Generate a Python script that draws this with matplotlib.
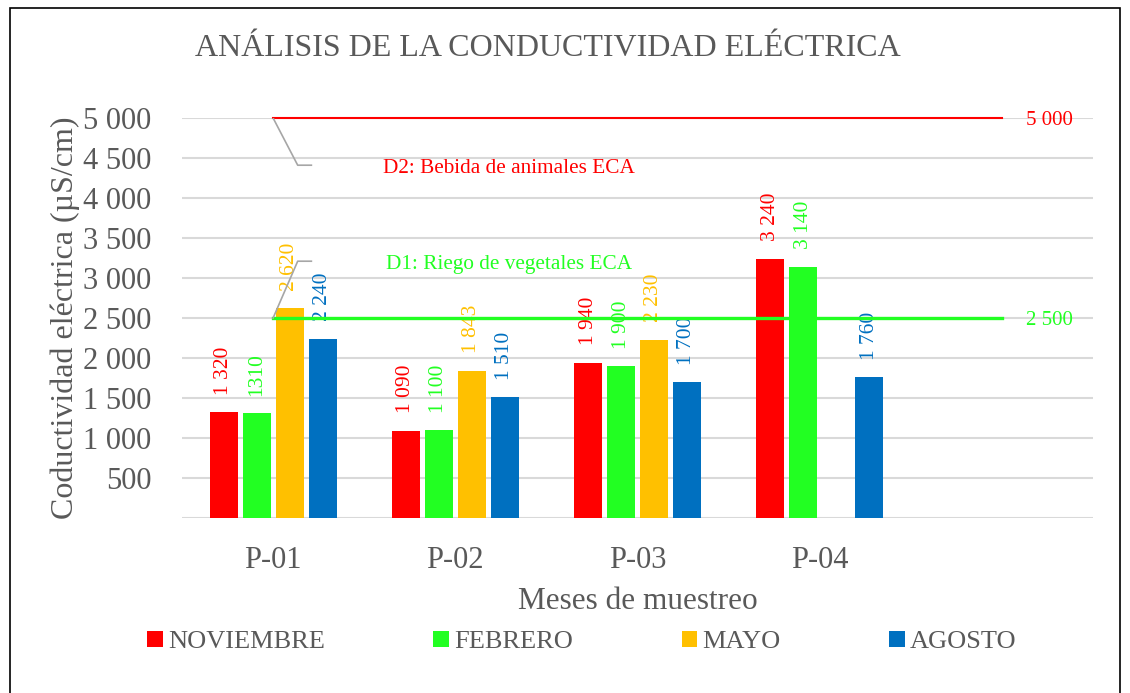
import matplotlib.pyplot as plt
from matplotlib.patches import Rectangle
from matplotlib.ticker import FuncFormatter

# datos
puntos = ["P-01", "P-02", "P-03", "P-04", ""]
meses = ["NOVIEMBRE", "FEBRERO", "MAYO", "AGOSTO"]
noviembre = [1320, 1090, 1940, 3240]
febrero = [1310, 1100, 1900, 3140]
mayo = [2620, 1843, 2230, None]
agosto = [2240, 1510, 1700, 1760]
etiquetas = [["1 320", "1 090", "1 940", "3 240"],
             ["1310", "1 100", "1 900", "3 140"],
             ["2 620", "1 843", "2 230", ""],
             ["2 240", "1 510", "1 700", "1 760"]]
eca_d1 = [2500] * 5
eca_d2 = [5000] * 5

colores = ["#FF0000", "#22FF22", "#FFC000", "#0070C0"]
gris = "#595959"
plt.rcParams['font.family'] = ['Liberation Serif', 'DejaVu Serif']

fig = plt.figure(figsize=(11.3, 6.93), dpi=100)
ax = fig.add_axes([182 / 1130, 1 - 518 / 693, 911 / 1130, 400 / 693])

paso = 0.181
ancho = 0.154
series = [noviembre, febrero, mayo, agosto]
for k, serie in enumerate(series):
    xs = [i + (k - 1.5) * paso for i in range(len(serie)) if serie[i] is not None]
    ys = [v for v in serie if v is not None]
    labs = [etiquetas[k][i] for i in range(len(serie)) if serie[i] is not None]
    ax.bar(xs, ys, width=ancho, color=colores[k], label=meses[k], zorder=3)
    for x, y, t in zip(xs, ys, labs):
        ax.annotate(t, (x, y), xytext=(0, 12.5), textcoords="offset points",
                    rotation=90, ha="center", va="bottom", fontsize=15.5,
                    color=colores[k])

ax.plot(range(5), eca_d2, color="#FF0000", lw=1.5, zorder=4, clip_on=False)
ax.plot(range(5), eca_d1, color="#22FF22", lw=2.4, zorder=4)
ax.annotate("5 000", (4, 5000), xytext=(17, 0), textcoords="offset points",
            va="center_baseline", ha="left", fontsize=15, color="#FF0000")
ax.annotate("2 500", (4, 2500), xytext=(17, 0), textcoords="offset points",
            va="center_baseline", ha="left", fontsize=15, color="#22FF22")

# llamadas
ax.plot([0, 0.135, 0.21], [5000, 4410, 4410], color="#A6A6A6", lw=1.2, zorder=5)
ax.text(1.295, 4370, "D2: Bebida de animales ECA", ha="center", va="center",
        fontsize=15.3, color="#FF0000")
ax.plot([0, 0.135, 0.21], [2500, 3210, 3210], color="#A6A6A6", lw=1.2, zorder=5)
ax.text(1.295, 3170, "D1: Riego de vegetales ECA", ha="center", va="center",
        fontsize=15.3, color="#22FF22")

ax.set_xlim(-0.5, 4.5)
ax.set_ylim(0, 5000)
ax.set_yticks(range(0, 5001, 500))
ax.yaxis.set_major_formatter(FuncFormatter(
    lambda v, p: "" if v == 0 else f"{int(v):,}".replace(",", " ")))
ax.set_xticks(range(5))
ax.set_xticklabels(puntos)
ax.tick_params(length=0, labelsize=22, labelcolor=gris)
ax.tick_params(axis="x", pad=20)
ax.tick_params(axis="y", pad=22)
ax.grid(axis="y", color="#D9D9D9", lw=1.5, zorder=0)
for s in ax.spines.values():
    s.set_visible(False)

ax.set_xlabel("Meses de muestreo", fontsize=22.5, color=gris, labelpad=9)
ax.set_ylabel("Coductividad eléctrica (µS/cm)", fontsize=23, color=gris, labelpad=2)
fig.text(548 / 1130, 1 - 49 / 693, "ANÁLISIS DE LA CONDUCTIVIDAD ELÉCTRICA",
         ha="center", va="center", fontsize=23, color=gris)

leg = ax.legend(loc="center", bbox_to_anchor=(582 / 1130, 1 - 642 / 693),
                bbox_transform=fig.transFigure, ncol=4, frameon=False,
                fontsize=19, handlelength=0.6, handleheight=0.6,
                handletextpad=0.2, columnspacing=4.1)
for t in leg.get_texts():
    t.set_color(gris)

fig.patches.append(Rectangle((10 / 1130, -0.05), 1110 / 1130, 1.05 - 8 / 693,
                             transform=fig.transFigure, fill=False,
                             edgecolor="black", lw=1.2))

fig.savefig("out.png", dpi=100)
